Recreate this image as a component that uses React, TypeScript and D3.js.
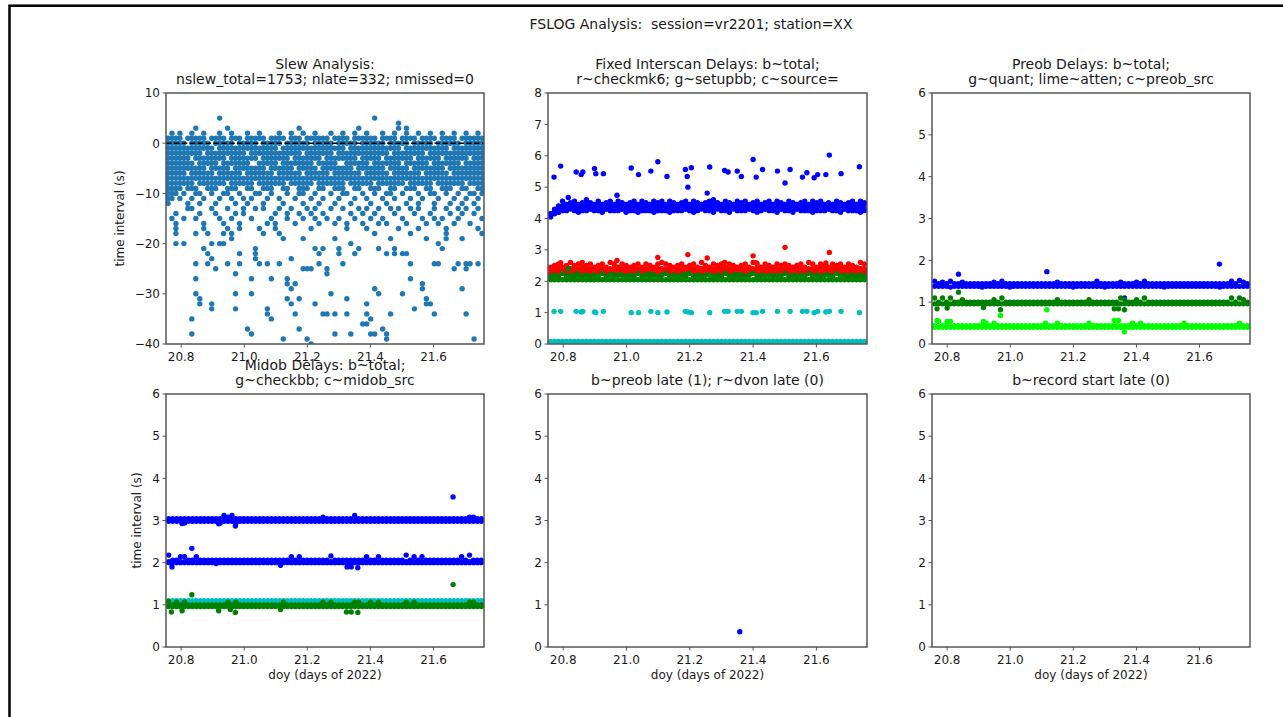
import React from 'react';
import * as d3 from 'd3';

type Pt = [number, number];

// ---------------- shared axis values ----------------
const xDomain: [number, number] = [20.752, 21.76];
const xTicks = [20.8, 21.0, 21.2, 21.4, 21.6];
const bandSpan: [number, number] = [20.754, 21.758];
const slewBinCount = 80;

const slewYTicks = [10, 0, -10, -20, -30, -40];
const fixedYTicks = [0, 1, 2, 3, 4, 5, 6, 7, 8];
const sixTicks = [0, 1, 2, 3, 4, 5, 6];

const figureTitle = 'FSLOG Analysis:  session=vr2201; station=XX';
const titles: string[][] = [
  ['Slew Analysis:', 'nslew_total=1753; nlate=332; nmissed=0'],
  ['Fixed Interscan Delays: b~total;', 'r~checkmk6; g~setupbb; c~source='],
  ['Preob Delays: b~total;', 'g~quant; lime~atten; c~preob_src'],
  ['Midob Delays: b~total;', 'g~checkbb; c~midob_src'],
  ['b~preob late (1); r~dvon late (0)'],
  ['b~record start late (0)'],
];
const yLabelText = 'time interval (s)';
const xLabelText = 'doy (days of 2022)';

// ---------------- panel 1: slew delays (s), per integer level, occupied time bins ----------------
const slewRows: [number, string][] = [
  [5, '13,52'],
  [4, '58'],
  [3, '7,15,33,48,58,60'],
  [2, '1,3,6,9,13,16,20,23,28,31,34,37,41,44,47,50,54,57,60,63,66,69,72,75,78'],
  [1, '0-3,5-9,11-14,16-18,20-24,26-29,31-33,35-40,42-45,47-52,54-57,59-62,64-67,69-72,74-79'],
  [0, '0-4,6-10,12-16,18-22,24-28,30-35,37-41,43-47,49-54,56-60,62-66,68-73,75-79'],
  [-1, '0-11,13-27,29-44,46-58,60-70,72-79'],
  [-2, '0-8,10-19,21-33,35-41,43-55,57-64,66-79'],
  [-3, '0-5,7-14,16-22,24-30,32-38,40-47,49-53,55-61,63-68,70-75,77-79'],
  [-4, '0-6,8-12,14-20,23-27,29-36,38-42,45-50,52-58,60-65,67-73,75-79'],
  [-5, '0-9,11-15,17-24,26-31,33-37,39-46,48-54,56-60,62-69,71-79'],
  [-6, '0-4,6-11,13-18,20-26,28-33,35-40,42-48,50-55,57-63,65-70,72-79'],
  [-7, '0-79'],
  [-8, '0-6,8-14,16-21,23-29,31-36,38-44,46-51,53-59,61-66,68-74,76-79'],
  [-9, '0-3,5-7,10-12,15-17,20-21,24-26,29-30,33-35,38-39,42-44,47-48,51-53,56-57,60-62,65-66,69-71,74-75,78-79'],
  [-10, '0-2,4,7-8,11,14-15,18,22-23,26,30,33-34,37,41,44-45,49,52,55-56,59,63,66-67,70,73,76-77,79'],
  [-11, '0-1,3,6,9,13,16,19,21,25,28,32,36,39,43,47,50,54,57,61,64,68,72,75,78'],
  [-12, '0,5,8,12,17,20,24,29,34,38,42,46,51,55,60,63,67,71,74,77'],
  [-13, '5,6,11,15,19,22,24,28,31,35,37,41,44,48,50,53,56,58,61,63,67,70,73,75,78'],
  [-14, '2,8,12,17,19,27,30,33,36,39,46,49,52,57,62,66,71,74,77'],
  [-15, '1,4,7,13,16,21,26,30,34,37,40,43,47,51,54,59,64,67,69,73,79'],
  [-16, '2,9,14,18,25,27,32,38,42,45,49,53,55,60,65,68,72,76'],
  [-17, '2,9,15,18,23,27,36,45,50,58,63,70,78'],
  [-18, '2,7,10,14,16,24,28,52,61,70,79'],
  [-19, '16,29,34,42,56,65,70,74'],
  [-20, '2,4,11,13,14,46,68'],
  [-21, '9,22,37,39,43,48,53,57,69'],
  [-22, '10,18,22,38,43,47,55,57,59,60'],
  [-23, '11,22,31'],
  [-24, '7,10,15,18,23,25,28,38,44,61,67,68,73,75,76,78'],
  [-25, '12,34,35,36,40,72,75'],
  [-26, '17,40'],
  [-27, '7,21,26,30,61'],
  [-28, '30,32,64'],
  [-29, '31,52,64,74'],
  [-30, '7,17,21,41,53,59'],
  [-31, '8,30,33,45,65'],
  [-32, '8,11,31,37,50,65,66'],
  [-33, '11,17,25,62'],
  [-34, '25,32,39,40,42,45,50,56,67,75'],
  [-35, '6,26,51'],
  [-36, '49,50'],
  [-37, '20,33,54'],
  [-38, '6,21,42,46,51,52,55'],
  [-39, '29,35,55,77'],
  [-40, '36'],
];

// ---------------- dense bands: [base, step, rows]; each char = base36 offset steps, '.' = none ----------------
type Band = [number, number, string[]];

const fixedBlueBand: Band = [4.0, 0.05, [
  '368b9ab9ac a9b9ab9ba9 ab9ba9bab9 ba9ab9ba9a bca9ba9bab 9ab9ab9ba9 ba9ab9bab9 a9ba9ab9ba',
  '3568999999 9999999999 9999999999 9999999999 9999999999 9999999999 9999999999 9999999999',
  '2457687677 6787678767 7867767687 6778676786 7687677867 6787678767 7867767687 6778676786',
  '1345565555 6555655565 5565556555 6555655565 5565556555 6555655565 5565556555 6555655565',
  '..4....4.. ...4.....4 ..4...4... 4.....4... .4...4.... ..4....4.. .4....4... ...4....4.',
]];
const fixedRedBand: Band = [2.0, 0.05, [
  '9ab9acab9a b9ab9cb9ba 9ab9ba9bcb a9ab9ab9ca 9bab9ba9ab 9cb9ba9bab a9ab9cb9ba 9bab9ba9cb',
  '8888888888 8888888888 8888888888 8888888888 8888888888 8888888888 8888888888 8888888888',
  '7687678767 6787678767 7867767687 6778676786 7687677867 6787678767 7867767687 6778676786',
  '5555555555 5555555555 5555555555 5555555555 5555555555 5555555555 5555555555 5555555555',
]];
const fixedGreenBand: Band = [2.0, 0.05, [
  '3435343434 3435343443 4353434345 3434353434 4343534343 4534343435 3434353434 4353434343',
  '1111111111 1111111111 1111111111 1111111111 1111111111 1111111111 1111111111 1111111111',
]];
const fixedCyanBand: Band = [0.0, 0.04, [
  '2222222222 2222222222 2222222222 2222222222 2222222222 2222222222 2222222222 2222222222',
]];

const preobBlueBand: Band = [1.3, 0.02, [
  'a797a77977 7777797a77 7777777777 7977777777 7a77777977 797a777777 7777777777 77777a7b97',
  '4444344444 4434444443 4444444444 4444434444 4443444444 4444444434 4444444444 4434444444',
]];
const preobGreenBand: Band = [0.9, 0.02, [
  'a5a5a55855 5555585a55 5555555555 5855555558 5555555a85 585a555555 5555555555 55555a5a85',
  '3333333333 3333333333 3333333333 3333333333 3333333333 3333333333 3333333333 3333333333',
]];
const preobLimeBand: Band = [0.3, 0.02, [
  '7c77c77777 777a7a7777 77777777a7 7a7777777a 7777777777 a7a7777777 777a777777 7777777a77',
  '5555555555 5555555555 5555555555 5555555555 5555555555 5555555555 5555555555 5555555555',
]];

const midobBlue3Band: Band = [2.9, 0.02, [
  '7777777777 7777b9b777 7777777777 7777777779 7777777b77 7777777777 7777777777 7777779977',
  '5555555555 5555555555 5555555555 5555555555 5555555555 5555555555 5555555555 5555555555',
  '4444244444 4442444244 4444444444 4444444444 4444444444 4444444444 4444444444 4444444444',
]];
const midobBlue2Band: Band = [1.9, 0.02, [
  'e88cc88c88 8888888888 8888888888 8c8c888888 8d88888888 c88c888888 e8c8c88888 8888c8e888',
  '6666666666 6666666666 6666666666 6666666666 6666666666 6666666666 6666666666 6666666666',
  '5555555555 5545555555 5555555555 5555555555 5555555555 5555555555 5555555555 5555555555',
]];
const midobCyanBand: Band = [1.0, 0.02, [
  '5555555555 5555555555 5555555555 5555555555 5555555555 5555555555 5555555555 5555555555',
  '4444444444 4444444444 4444444444 4444444444 4444444444 4444444444 4444444444 4444444444',
]];
const midobGreenBand: Band = [0.9, 0.02, [
  '9585855555 5555585855 5555555558 5555555558 5855555885 5858555555 8585555555 5555558855',
  '4444444444 4444444444 4444444444 4444444444 4444444444 4444444444 4444444444 4444444444',
  '3333333333 3333333333 3333333333 3333333333 3333333333 3333333333 3333333333 3333333333',
]];

// ---------------- isolated points [doy, seconds] ----------------
const fixedBlueOut: Pt[] = [
  [20.771, 5.32], [20.792, 5.67], [20.816, 4.67], [20.841, 5.48], [20.857, 5.4], [20.862, 5.48],
  [20.899, 5.59], [20.903, 5.43], [20.927, 5.43], [20.97, 4.74], [21.015, 5.61], [21.038, 5.4],
  [21.077, 5.51], [21.099, 5.81], [21.128, 5.34], [21.186, 5.56], [21.192, 5.34], [21.194, 5.0],
  [21.205, 5.62], [21.255, 4.81], [21.263, 5.64], [21.31, 5.53], [21.321, 5.48], [21.35, 5.51],
  [21.363, 5.34], [21.4, 5.88], [21.41, 5.32], [21.43, 5.56], [21.477, 5.51], [21.501, 5.13],
  [21.517, 5.56], [21.556, 5.32], [21.57, 5.46], [21.593, 5.3], [21.604, 5.4], [21.63, 5.4],
  [21.641, 6.02], [21.678, 5.43], [21.736, 5.65],
];
const fixedRedOut: Pt[] = [
  [20.792, 2.59], [20.86, 2.6], [20.97, 2.66], [21.099, 2.76], [21.194, 2.85], [21.255, 2.74],
  [21.31, 2.6], [21.4, 2.81], [21.41, 2.59], [21.501, 3.08], [21.63, 2.58], [21.641, 2.92],
];
const fixedGreenOut: Pt[] = [
  [20.816, 2.4], [20.845, 2.25], [20.955, 2.22], [21.075, 2.23], [21.186, 2.22], [21.35, 2.22],
];
const fixedCyanOut: Pt[] = [
  [20.771, 1.04], [20.792, 1.04], [20.841, 1.04], [20.857, 1.02], [20.862, 1.04], [20.899, 1.02],
  [20.903, 1.0], [20.927, 1.04], [21.015, 1.0], [21.038, 1.0], [21.077, 1.04], [21.099, 1.0],
  [21.128, 1.02], [21.186, 1.04], [21.194, 1.02], [21.205, 1.0], [21.263, 1.0], [21.31, 1.04],
  [21.321, 1.04], [21.35, 1.04], [21.363, 1.04], [21.4, 1.0], [21.41, 1.0], [21.43, 1.04],
  [21.477, 1.04], [21.517, 1.04], [21.556, 1.04], [21.57, 1.04], [21.593, 1.0], [21.604, 1.04],
  [21.63, 1.02], [21.641, 1.04], [21.678, 1.04], [21.736, 1.0],
];
const preobBlueOut: Pt[] = [[20.836, 1.67], [21.116, 1.73], [21.663, 1.91], [21.362, 1.1]];
const preobGreenOut: Pt[] = [
  [20.768, 0.84], [20.8, 0.86], [20.836, 1.24], [20.915, 0.87], [20.969, 0.82],
  [21.33, 0.84], [21.343, 0.84], [21.362, 0.82],
];
const preobLimeOut: Pt[] = [
  [20.768, 0.56], [20.8, 0.54], [20.915, 0.54], [20.969, 0.68], [21.116, 0.82],
  [21.33, 0.56], [21.343, 0.56], [21.362, 0.29],
];
const midobBlueOut: Pt[] = [
  [20.771, 1.9], [21.115, 1.94], [21.326, 1.9], [21.339, 1.9], [21.36, 1.88], [20.834, 2.34],
  [20.803, 2.93], [20.919, 2.92], [20.972, 2.87], [21.662, 3.56],
];
const midobGreenOut: Pt[] = [
  [20.769, 0.83], [20.803, 0.86], [20.834, 1.24], [20.919, 0.86], [20.956, 0.89], [20.972, 0.82],
  [21.115, 0.89], [21.324, 0.83], [21.339, 0.83], [21.36, 0.82], [21.662, 1.48],
];
const preobLatePts: Pt[] = [[21.358, 0.36]];

// ---------------- builders ----------------
function parseBins(spec: string): number[] {
  const out: number[] = [];
  spec.split(',').forEach((part) => {
    const [a, b] = part.split('-').map(Number);
    if (b === undefined || isNaN(b)) out.push(a);
    else for (let i = a; i <= b; i++) out.push(i);
  });
  return out;
}

function slewPoints(): Pt[] {
  const pts: Pt[] = [];
  const w = (xDomain[1] - xDomain[0]) / slewBinCount;
  slewRows.forEach(([v, spec]) => {
    parseBins(spec).forEach((i) => pts.push([xDomain[0] + (i + 0.5) * w, v]));
  });
  return pts;
}

function bandPoints([base, step, rows]: Band): Pt[] {
  const pts: Pt[] = [];
  rows.forEach((r) => {
    const s = r.replace(/\s/g, '');
    const n = s.length;
    const w = (bandSpan[1] - bandSpan[0]) / n;
    for (let i = 0; i < n; i++) {
      const c = s[i];
      if (c === '.') continue;
      pts.push([bandSpan[0] + (i + 0.5) * w, base + parseInt(c, 36) * step]);
    }
  });
  return pts;
}

// ---------------- layout & style ----------------
const W = 1283;
const H = 717;
const COLS: [number, number][] = [[166, 484], [548, 867], [932, 1250]];
const ROWS: [number, number][] = [[93, 344], [394, 647]];
const FONT = "'DejaVu Sans', 'Liberation Sans', sans-serif";
const TXT = '#1a1a1a';
const SPINE = '#555';
const DOT_R = 2.7;
const TICK_FS = 12;
const TITLE_FS = 14;
const C = { tab: '#1f77b4', b: '#0000ff', r: '#ff0000', g: '#008000', c: '#00bfbf', lime: '#00ff00' };

interface Layer { color: string; pts: Pt[] }
interface PanelDef {
  id: number; col: number; row: number; title: string[]; yDomain: [number, number]; yTicks: number[];
  ylabel?: string; ylabelX?: number; xlabel?: boolean; layers: Layer[]; zeroLine?: boolean;
}

const panels: PanelDef[] = [
  { id: 0, col: 0, row: 0, title: titles[0], yDomain: [-40, 10], yTicks: slewYTicks, ylabel: yLabelText, ylabelX: 120,
    layers: [{ color: C.tab, pts: slewPoints() }], zeroLine: true },
  { id: 1, col: 1, row: 0, title: titles[1], yDomain: [0, 8], yTicks: fixedYTicks,
    layers: [
      { color: C.b, pts: [...bandPoints(fixedBlueBand), ...fixedBlueOut] },
      { color: C.r, pts: [...bandPoints(fixedRedBand), ...fixedRedOut] },
      { color: C.g, pts: [...bandPoints(fixedGreenBand), ...fixedGreenOut] },
      { color: C.c, pts: [...bandPoints(fixedCyanBand), ...fixedCyanOut] },
    ] },
  { id: 2, col: 2, row: 0, title: titles[2], yDomain: [0, 6], yTicks: sixTicks,
    layers: [
      { color: C.b, pts: [...bandPoints(preobBlueBand), ...preobBlueOut] },
      { color: C.g, pts: [...bandPoints(preobGreenBand), ...preobGreenOut] },
      { color: C.lime, pts: [...bandPoints(preobLimeBand), ...preobLimeOut] },
    ] },
  { id: 3, col: 0, row: 1, title: titles[3], yDomain: [0, 6], yTicks: sixTicks, ylabel: yLabelText, ylabelX: 137, xlabel: true,
    layers: [
      { color: C.b, pts: [...bandPoints(midobBlue3Band), ...bandPoints(midobBlue2Band), ...midobBlueOut] },
      { color: C.c, pts: bandPoints(midobCyanBand) },
      { color: C.g, pts: [...bandPoints(midobGreenBand), ...midobGreenOut] },
    ] },
  { id: 4, col: 1, row: 1, title: titles[4], yDomain: [0, 6], yTicks: sixTicks, xlabel: true,
    layers: [{ color: C.b, pts: preobLatePts }] },
  { id: 5, col: 2, row: 1, title: titles[5], yDomain: [0, 6], yTicks: sixTicks, xlabel: true, layers: [] },
];

const fmtX = d3.format('.1f');
const fmtY = d3.format('d');

function Panel({ p }: { p: PanelDef }) {
  const [x0, x1] = COLS[p.col];
  const [y0, y1] = ROWS[p.row];
  const x = d3.scaleLinear().domain(xDomain).range([x0, x1]);
  const y = d3.scaleLinear().domain(p.yDomain).range([y1, y0]);
  const clipId = `clip-${p.id}`;
  const cx = (x0 + x1) / 2;
  const nT = p.title.length;
  return (
    <g>
      <defs>
        <clipPath id={clipId}>
          <rect x={x0} y={y0} width={x1 - x0} height={y1 - y0} />
        </clipPath>
      </defs>
      <g clipPath={`url(#${clipId})`}>
        {p.layers.map((l, li) => (
          <g key={li} fill={l.color}>
            {l.pts.map((d, i) => (
              <circle key={i} cx={x(d[0])} cy={y(d[1])} r={DOT_R} />
            ))}
          </g>
        ))}
        {p.zeroLine && (
          <line x1={x0} x2={x1} y1={y(0)} y2={y(0)} stroke="#000" strokeWidth={1.5} strokeDasharray="5.5,2.4" />
        )}
      </g>
      <rect x={x0} y={y0} width={x1 - x0} height={y1 - y0} fill="none" stroke={SPINE} strokeWidth={1.5} />
      {xTicks.map((t) => (
        <g key={t}>
          <line x1={x(t)} x2={x(t)} y1={y1} y2={y1 + 3.5} stroke={SPINE} strokeWidth={1} />
          <text x={x(t)} y={y1 + 17} textAnchor="middle" fontSize={TICK_FS} fill={TXT}>{fmtX(t)}</text>
        </g>
      ))}
      {p.yTicks.map((t) => (
        <g key={t}>
          <line x1={x0 - 3.5} x2={x0} y1={y(t)} y2={y(t)} stroke={SPINE} strokeWidth={1} />
          <text x={x0 - 6} y={y(t)} dy="0.36em" textAnchor="end" fontSize={TICK_FS} fill={TXT}>{fmtY(t)}</text>
        </g>
      ))}
      {p.title.map((s, i) => (
        <text key={i} x={cx} y={y0 - 9.5 - (nT - 1 - i) * 14.5} textAnchor="middle" fontSize={TITLE_FS} fill={TXT}>{s}</text>
      ))}
      {p.ylabel && (
        <text transform={`translate(${p.ylabelX},${(y0 + y1) / 2}) rotate(-90)`} textAnchor="middle" dy="0.35em"
          fontSize={TICK_FS} fill={TXT}>{p.ylabel}</text>
      )}
      {p.xlabel && (
        <text x={cx} y={y1 + 32} textAnchor="middle" fontSize={TICK_FS} fill={TXT}>{xLabelText}</text>
      )}
    </g>
  );
}

export default function App() {
  return (
    <svg width={W} height={H} viewBox={`0 0 ${W} ${H}`} fontFamily={FONT}
      style={{ position: 'absolute', left: 0, top: 0, background: '#fff', display: 'block' }}>
      <rect x={0} y={0} width={W} height={H} fill="#fff" />
      <rect x={9.5} y={5.7} width={1400} height={800} fill="none" stroke="#000" strokeWidth={2.5} />
      <text x={691} y={29} textAnchor="middle" fontSize={TITLE_FS} fill={TXT} style={{ whiteSpace: 'pre' }}>{figureTitle}</text>
      {panels.map((p) => <Panel key={p.id} p={p} />)}
    </svg>
  );
}
